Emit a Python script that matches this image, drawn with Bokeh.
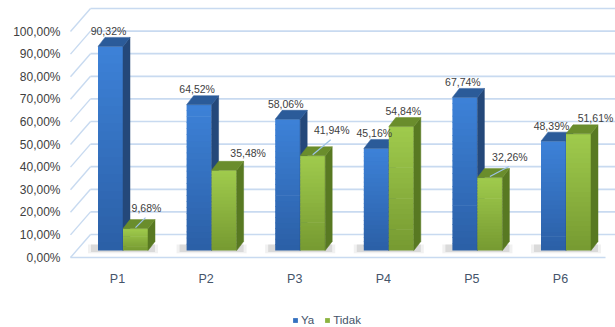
import numpy as np
from bokeh.plotting import figure
from bokeh.models import ColumnDataSource, FixedTicker, Legend, LegendItem, Range1d
from bokeh.core.properties import value
from bokeh.embed import file_html
from bokeh.resources import INLINE

# ---------------- data ----------------
categories = ["P1", "P2", "P3", "P4", "P5", "P6"]
ya = [90.32, 64.52, 58.06, 45.16, 67.74, 48.39]
tidak = [9.68, 35.48, 41.94, 54.84, 32.26, 51.61]
series_names = ["Ya", "Tidak"]
y_ticks = [0, 10, 20, 30, 40, 50, 60, 70, 80, 90, 100]
y_tick_labels = ["0,00%", "10,00%", "20,00%", "30,00%", "40,00%", "50,00%",
                 "60,00%", "70,00%", "80,00%", "90,00%", "100,00%"]

# ---------------- layout / style ----------------
FONT = "'Liberation Sans Narrow', 'Arial Narrow', 'Liberation Sans', sans-serif"
W, H = 615, 327
FRAME_L = 66
FRAME_W, FRAME_H = W - FRAME_L, H
PXX = 88.6   # px per category
PXY = 2.26   # px per percent
X0_PX = 117 - FRAME_L   # first category position inside frame
Y0_PX = 257             # front-plane 0% (screen y)

def ux(px):
    return px / PXX

def uy(px):
    return px / PXY

x_start = -ux(X0_PX)
x_end = x_start + ux(FRAME_W)
y_start = -uy(FRAME_H - Y0_PX)
y_end = y_start + uy(FRAME_H)

BAR_BASE = uy(7)        # bars stand a bit behind the front plane
BACK_DY = uy(23)        # back wall offset
BACK_DX = ux(20)
LEFT_FRONT = ux(70 - 117)
RIGHT_FRONT = ux(605 - 117)
YA_L, YA_R = ux(-19.5), ux(5.5)
TI_L, TI_R = ux(5.5), ux(30.5)
DX, DY = ux(7), uy(9)

YA_TOP_C, YA_BOT_C = (61, 130, 216), (43, 95, 166)
TI_TOP_C, TI_BOT_C = (160, 203, 77), (118, 154, 49)
YA_SIDE, YA_CAP = "#24487A", "#2B5B99"
TI_SIDE, TI_CAP = "#587922", "#6A8D2C"
GRID_C = "#C8DAF0"

TIDAK_LABEL_DX = [11, 24, 19, 2, 20, 17]
TIDAK_LABEL_DY = [-21, -17, -26, -16, -21, -16]
LEADER = [True, False, True, False, True, False]

def fmt(v):
    return f"{v:.2f}".replace(".", ",") + "%"

def hexc(c):
    return "#%02x%02x%02x" % tuple(int(round(v)) for v in c)

p = figure(width=W, height=H, x_range=Range1d(x_start, x_end), y_range=Range1d(y_start, y_end),
           output_backend="svg", toolbar_location=None,
           min_border_left=FRAME_L, min_border_right=0, min_border_top=0, min_border_bottom=0)
p.outline_line_color = None
p.xgrid.visible = False
p.ygrid.visible = False
p.xaxis.visible = False
p.background_fill_color = "white"

# ---------------- walls / grid ----------------
ticks = np.array(y_ticks, dtype=float)
p.segment(x0=[LEFT_FRONT] * len(ticks), y0=ticks, x1=[LEFT_FRONT + BACK_DX] * len(ticks), y1=ticks + BACK_DY,
          line_color=GRID_C, line_width=1.4)
p.segment(x0=[LEFT_FRONT + BACK_DX] * len(ticks), y0=ticks + BACK_DY, x1=[x_end] * len(ticks), y1=ticks + BACK_DY,
          line_color=GRID_C, line_width=1.7)
p.segment(x0=[LEFT_FRONT], y0=[0], x1=[RIGHT_FRONT], y1=[0], line_color=GRID_C, line_width=1.7)

idx = np.arange(len(categories), dtype=float)
ya_a = np.array(ya)
ti_a = np.array(tidak)

# ---------------- shadows ----------------
for grow, alpha in [(3, 0.08), (0, 0.14)]:
    p.quad(left=idx + YA_L - ux(7 + grow), right=idx + TI_R + DX + ux(grow),
           bottom=BAR_BASE - uy(1.5 + grow * 0.4), top=BAR_BASE + uy(6),
           fill_color="#505050", fill_alpha=alpha, line_color=None)

# ---------------- bars ----------------
N = 24
def front(xl, xr, vals, ctop, cbot):
    L, R, B, T, C = [], [], [], [], []
    for i, v in enumerate(vals):
        for k in range(N):
            f = (k + 0.5) / N
            L.append(idx[i] + xl)
            R.append(idx[i] + xr)
            B.append(BAR_BASE + v * k / N)
            T.append(BAR_BASE + v * (k + 1) / N + (uy(0.7) if k < N - 1 else 0))
            C.append(hexc(tuple(cb + (ct - cb) * f for ct, cb in zip(ctop, cbot))))
    src = ColumnDataSource(dict(left=L, right=R, bottom=B, top=T, color=C))
    return p.quad(left="left", right="right", bottom="bottom", top="top", fill_color="color",
                  line_color=None, source=src)

def sides(xl, xr, vals, side_c, cap_c):
    sx, sy, tx, ty = [], [], [], []
    for i, v in enumerate(vals):
        x0, x1 = idx[i] + xl, idx[i] + xr
        top = BAR_BASE + v
        sx.append([x1, x1 + DX, x1 + DX, x1])
        sy.append([BAR_BASE, BAR_BASE + DY, top + DY, top])
        tx.append([x0, x1, x1 + DX, x0 + DX])
        ty.append([top, top, top + DY, top + DY])
    p.patches(xs=sx, ys=sy, fill_color=side_c, line_color=side_c, line_width=0.5)
    p.patches(xs=tx, ys=ty, fill_color=cap_c, line_color=cap_c, line_width=0.5)

r_ya = front(YA_L, YA_R, ya, YA_TOP_C, YA_BOT_C)
sides(YA_L, YA_R, ya, YA_SIDE, YA_CAP)
r_ti = front(TI_L, TI_R, tidak, TI_TOP_C, TI_BOT_C)
sides(TI_L, TI_R, tidak, TI_SIDE, TI_CAP)

# ---------------- leader lines ----------------
lx0, ly0, lx1, ly1 = [], [], [], []
for i, v in enumerate(tidak):
    if LEADER[i]:
        cx = idx[i] + (TI_L + TI_R) / 2
        top = BAR_BASE + v
        lx0.append(cx)
        ly0.append(top + uy(1))
        lx1.append(cx + ux(TIDAK_LABEL_DX[i] - 1))
        ly1.append(top - uy(TIDAK_LABEL_DY[i] + 10))
p.segment(x0=lx0, y0=ly0, x1=lx1, y1=ly1, line_color="#9DC3E6", line_width=1.2)

# ---------------- data labels ----------------
lab = ColumnDataSource(dict(
    x=list(idx + (YA_L + YA_R) / 2) + list(idx + (TI_L + TI_R) / 2),
    y=list(BAR_BASE + ya_a) + list(BAR_BASE + ti_a),
    text=[fmt(v) for v in ya] + [fmt(v) for v in tidak],
    xo=[-2] * len(ya) + TIDAK_LABEL_DX,
    yo=[-15.5] * len(ya) + TIDAK_LABEL_DY,
))
p.text(x="x", y="y", text="text", x_offset="xo", y_offset="yo", source=lab,
       text_align="center", text_baseline="middle", text_font_size="10.5px",
       text_color="#404040", text_font=value(FONT))

# ---------------- category labels (x axis) ----------------
cat_src = ColumnDataSource(dict(x=idx, y=[0] * len(categories), text=categories))
p.text(x="x", y="y", text="text", y_offset=21, source=cat_src,
       text_align="center", text_baseline="middle", text_font_size="12.5px",
       text_color="#44546A", text_font=value(FONT))

# ---------------- y axis ----------------
p.yaxis.ticker = FixedTicker(ticks=y_ticks)
p.yaxis.major_label_overrides = {t: l for t, l in zip(y_ticks, y_tick_labels)}
p.yaxis.axis_line_color = None
p.yaxis.major_tick_line_color = None
p.yaxis.minor_tick_line_color = None
p.yaxis.major_tick_out = 0
p.yaxis.major_label_standoff = 6
p.yaxis.major_label_text_font_size = "12px"
p.yaxis.major_label_text_color = "#404040"
p.yaxis.major_label_text_font = FONT

# ---------------- legend ----------------
legend = Legend(items=[LegendItem(label=series_names[0], renderers=[r_ya], index=N // 2),
                       LegendItem(label=series_names[1], renderers=[r_ti], index=N // 2)],
                location=(292 - FRAME_L, 0), orientation="horizontal",
                glyph_width=6, glyph_height=6, label_standoff=3, spacing=10,
                label_width=8, label_height=14, padding=0, margin=0,
                border_line_color=None, background_fill_alpha=0,
                label_text_font_size="11.5px", label_text_color="#44546A", label_text_font=FONT)
p.add_layout(legend, "center")

open("out.html", "w").write(file_html(p, INLINE))
